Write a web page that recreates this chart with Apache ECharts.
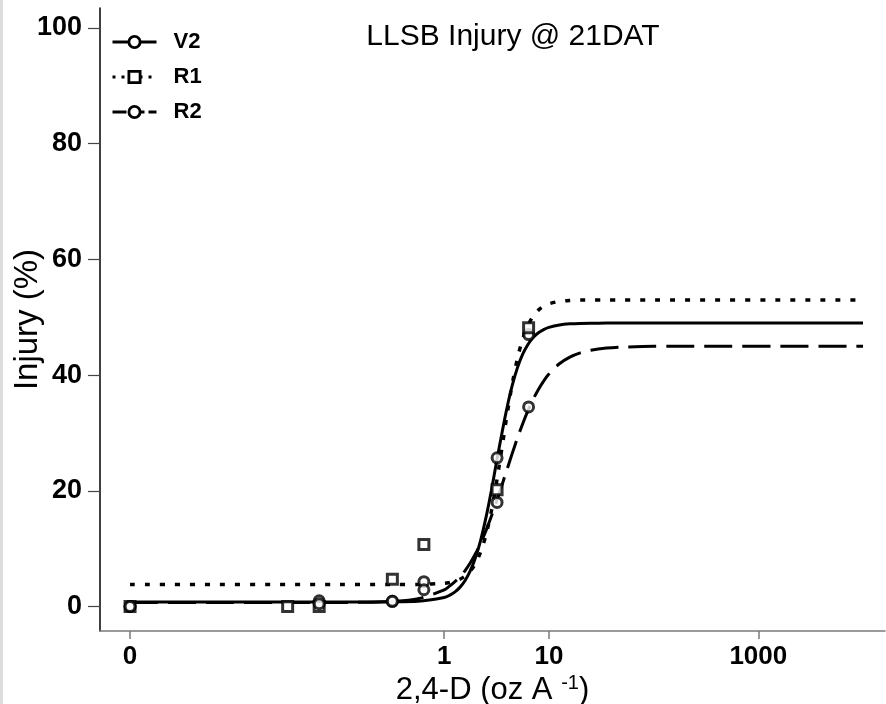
<!DOCTYPE html>
<html>
<head>
<meta charset="utf-8">
<script src="https://cdn.jsdelivr.net/npm/echarts@6/dist/echarts.min.js"></script>
<style>
  html, body { margin: 0; padding: 0; background: #fff; }
  #chart { width: 886px; height: 704px; }
</style>
</head>
<body>
<div id="chart"></div>
<script>
// ---- data ----
const DOSE_ZERO_AT = 0.001;                 // dose "0" is drawn at this position of the log axis
const doses = [0, 0.032, 0.064, 0.32, 0.64, 3.2, 6.4];
const obsV2 = [0, null, 1.0, 0.9, 4.3, 25.7, 47.0];
const obsR1 = [0, 0, 0, 4.7, 10.7, 20.2, 48.2];
const obsR2 = [0, null, 0.5, 0.9, 2.9, 18.0, 34.5];

// fitted curves, sampled along log10(dose)
const curveLogDose = [-3, -1, -0.5, -0.25, 0, 0.05, 0.1, 0.15, 0.2, 0.25, 0.3, 0.35, 0.4, 0.45, 0.5, 0.55, 0.6, 0.65, 0.7, 0.75, 0.8, 0.85, 0.9, 0.95, 1.0, 1.1, 1.2, 1.3, 1.4, 1.55, 1.7, 2.0, 4.0];
const curveV2 = [0.8, 0.8, 0.81, 0.9, 1.55, 1.93, 2.49, 3.31, 4.5, 6.19, 8.51, 11.58, 15.45, 19.97, 25.0, 29.82, 34.35, 38.22, 41.29, 43.61, 45.3, 46.49, 47.31, 47.87, 48.25, 48.67, 48.86, 48.94, 48.97, 48.99, 49, 49, 49];
const curveR1 = [3.8, 3.8, 3.8, 3.82, 4.02, 4.15, 4.37, 4.72, 5.27, 6.14, 7.48, 9.51, 12.43, 16.42, 21.46, 27.21, 33.1, 38.47, 42.91, 46.25, 48.6, 50.19, 51.23, 51.89, 52.31, 52.74, 52.9, 52.96, 52.98, 53, 53, 53, 53];
const curveR2 = [0.7, 0.7, 0.88, 1.34, 2.88, 3.52, 4.28, 5.1, 6.22, 7.56, 9.16, 11.03, 13.17, 15.56, 18.15, 20.89, 23.69, 26.47, 29.13, 31.6, 33.85, 35.83, 37.53, 38.97, 40.18, 41.96, 43.12, 43.85, 44.3, 44.67, 44.84, 44.97, 45];

const xTickDoses = [0, 1, 10, 1000];
const xTickLabels = ['0', '1', '10', '1000'];
const yTicks = [0, 20, 40, 60, 80, 100];

const seriesNames = ['V2', 'R1', 'R2'];
const titleText = 'LLSB Injury @ 21DAT';

// ---- helpers ----
const toX = d => Math.log10(d === 0 ? DOSE_ZERO_AT : d);
const curveData = vals => curveLogDose.map((l, i) => [l, vals[i]]);
const obsData = vals => doses.map((d, i) => [toX(d), vals[i]]).filter(p => p[1] !== null);
const xTickValues = xTickDoses.map(toX);

const FONT = 'Liberation Sans, Arial, sans-serif';
const styles = {
  V2: { line: { type: 'solid', width: 3 }, symbol: 'circle', size: 10 },
  R1: { line: { type: [5, 10], width: 3.5 }, symbol: 'rect', size: 10 },
  R2: { line: { type: [28, 10], width: 3 }, symbol: 'circle', size: 10 }
};
const legendDash = { V2: 'solid', R1: [3, 6], R2: [14, 4] };
const obsVals = { V2: obsV2, R1: obsR1, R2: obsR2 };
const curveVals = { V2: curveV2, R1: curveR1, R2: curveR2 };

const series = [];
seriesNames.forEach(n => {
  const s = styles[n];
  series.push({
    name: n,
    type: 'line',
    data: curveData(curveVals[n]),
    smooth: 0.3,
    symbol: s.symbol,
    symbolSize: s.size,
    showSymbol: false,
    lineStyle: { color: '#000', width: s.line.width, type: s.line.type, cap: 'butt' },
    itemStyle: { color: '#fff', borderColor: '#000', borderWidth: 2.8 },
    silent: true,
    z: 2
  });
});
seriesNames.forEach(n => {
  const s = styles[n];
  series.push({
    name: n + ' obs',
    type: 'scatter',
    data: obsData(obsVals[n]),
    symbol: s.symbol,
    symbolSize: s.size,
    itemStyle: { color: '#fff', borderColor: '#000', borderWidth: 3 },
    silent: true,
    z: 3
  });
});

const chart = echarts.init(document.getElementById('chart'));
chart.setOption({
  animation: false,
  backgroundColor: '#fff',
  title: {
    text: titleText,
    left: 508,
    textAlign: 'center',
    top: 17,
    textStyle: { fontFamily: FONT, fontSize: 30, fontWeight: 'normal', color: '#000' }
  },
  legend: {
    data: seriesNames.map(n => ({
      name: n,
      lineStyle: { color: '#000', width: 3, type: legendDash[n] },
      itemStyle: { color: '#fff', borderColor: '#000', borderWidth: 2.8 }
    })),
    orient: 'vertical',
    left: 106,
    top: 26,
    itemWidth: 44,
    itemHeight: 14,
    itemGap: 13,
    textStyle: { fontFamily: FONT, fontSize: 22, fontWeight: 'bold', color: '#000', padding: [0, 0, 0, 12] }
  },
  grid: { left: 100, right: 1, top: 8, bottom: 73, outerBoundsMode: 'none', containLabel: false },
  xAxis: {
    type: 'value',
    min: -3.287,
    max: 4.21,
    name: '{a|2,4-D (oz A }{s|-1}{a|)}',
    nameLocation: 'middle',
    nameGap: 42,
    nameMoveOverlap: false,
    nameTextStyle: {
      rich: {
        a: { fontFamily: FONT, fontSize: 31, color: '#000' },
        s: { fontFamily: FONT, fontSize: 20, color: '#000', padding: [0, 0, 14, 0] }
      }
    },
    axisLine: { show: true, onZero: false, lineStyle: { color: '#7a7a7a', width: 1.5 } },
    axisTick: { show: true, customValues: xTickValues, length: 8, lineStyle: { color: '#7a7a7a', width: 1.5 } },
    axisLabel: {
      customValues: xTickValues,
      margin: 13,
      fontFamily: FONT, fontSize: 26, fontWeight: 'bold', color: '#000',
      formatter: v => {
        const i = xTickValues.findIndex(t => Math.abs(t - v) < 1e-6);
        return i >= 0 ? xTickLabels[i] : '';
      }
    },
    splitLine: { show: false }
  },
  yAxis: {
    type: 'value',
    min: -4.23,
    max: 103.45,
    name: 'Injury (%)',
    nameLocation: 'middle',
    nameGap: 56,
    nameMoveOverlap: false,
    nameTextStyle: { fontFamily: FONT, fontSize: 33, color: '#000' },
    axisLine: { show: true, onZero: false, lineStyle: { color: '#000', width: 1.5 } },
    axisTick: { show: true, customValues: yTicks, length: 12, lineStyle: { color: '#444', width: 1.2 } },
    axisLabel: {
      customValues: yTicks,
      margin: 18,
      fontFamily: FONT, fontSize: 27, fontWeight: 'bold', color: '#000'
    },
    splitLine: { show: false }
  },
  graphic: [
    { type: 'rect', shape: { x: 0, y: 0, width: 3, height: 704 }, style: { fill: '#dcdcdc' }, silent: true }
  ],
  series: series
});
</script>
</body>
</html>
